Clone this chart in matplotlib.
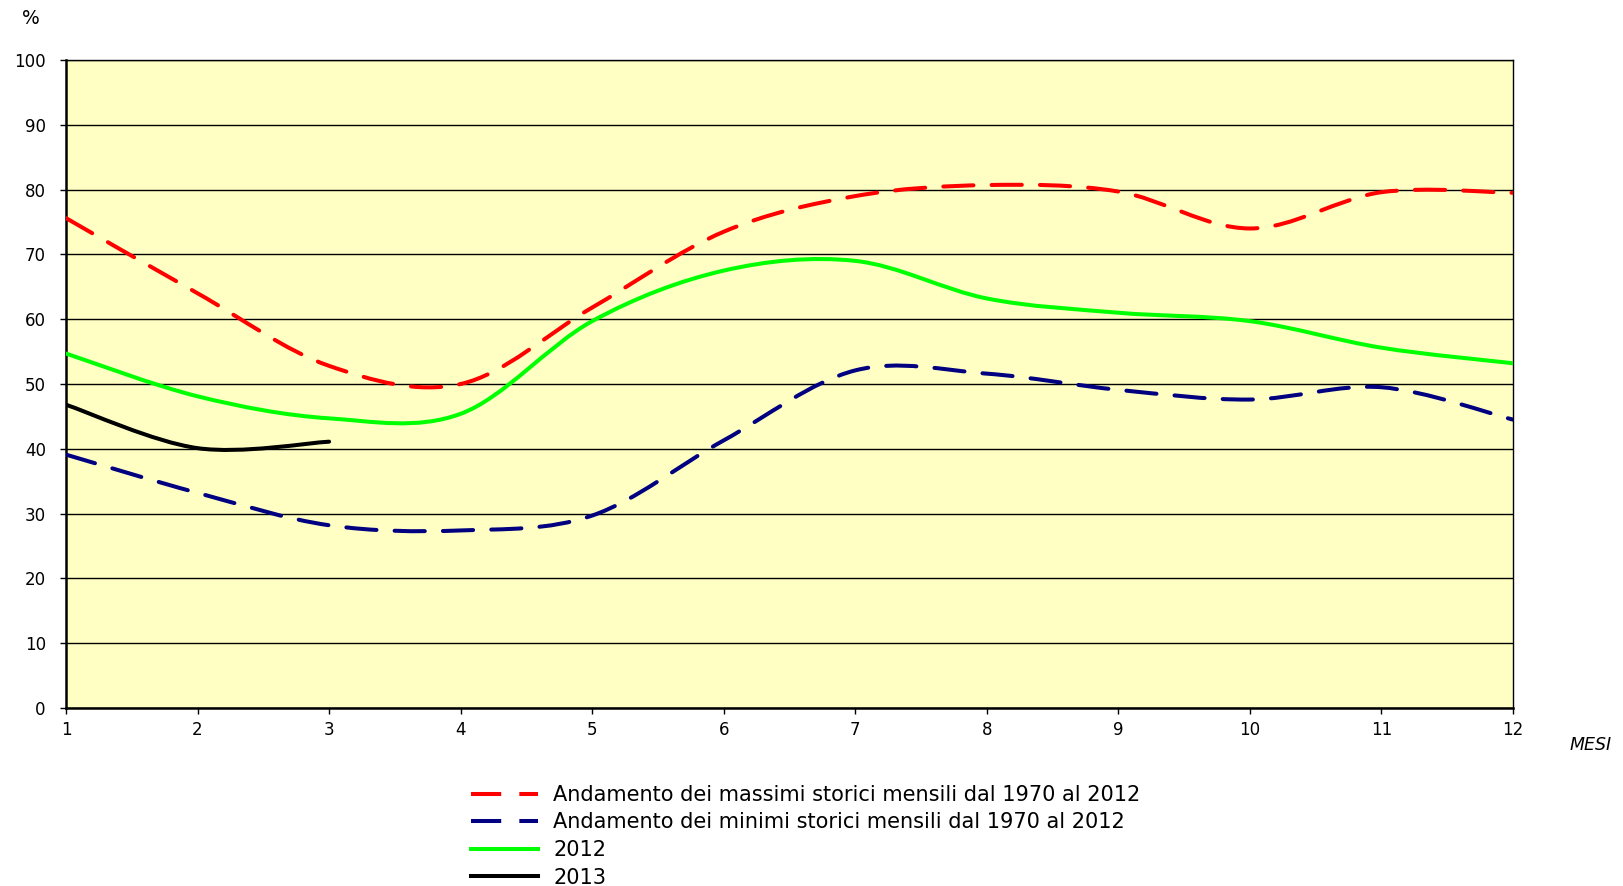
import numpy as np
import matplotlib
matplotlib.use("Agg")
import matplotlib.pyplot as plt
from matplotlib.path import Path
from matplotlib.patches import PathPatch
from matplotlib.lines import Line2D

plt.rcParams["font.family"] = ["DejaVu Sans"]

# mesi e percentuali
mesi = [1, 2, 3, 4, 5, 6, 7, 8, 9, 10, 11, 12]
massimi = [75.6, 64.0, 52.8, 50.0, 61.8, 73.5, 79.0, 80.7, 79.7, 74.0, 79.6, 79.5]
minimi = [39.1, 33.2, 28.2, 27.4, 29.7, 41.3, 52.1, 51.6, 49.1, 47.6, 49.5, 44.5]
anno_2012 = [54.7, 48.1, 44.7, 45.4, 59.7, 67.5, 69.0, 63.2, 61.0, 59.7, 55.6, 53.2]
mesi_2013 = [1, 2, 3]
anno_2013 = [46.8, 40.1, 41.1]

etichette = [
    "Andamento dei massimi storici mensili dal 1970 al 2012",
    "Andamento dei minimi storici mensili dal 1970 al 2012",
    "2012",
    "2013",
]
colori = ["#FF0000", "#000080", "#00FF00", "#000000"]
tratteggio = (0, (7.5, 4.5))


def curva(x, y):
    # linea smussata tipo Excel: bezier con tangenti catmull-rom
    pts = np.column_stack([np.asarray(x, float), np.asarray(y, float)])
    ext = np.vstack([pts[0], pts, pts[-1]])
    verts = [pts[0]]
    codes = [Path.MOVETO]
    for i in range(len(pts) - 1):
        p0, p1, p2, p3 = ext[i], ext[i + 1], ext[i + 2], ext[i + 3]
        verts += [p1 + (p2 - p0) / 6, p2 - (p3 - p1) / 6, p2]
        codes += [Path.CURVE4] * 3
    return Path(verts, codes)


fig = plt.figure(figsize=(16.23, 8.86), dpi=100)
ax = fig.add_axes([66 / 1623, 1 - 708 / 886, 1447 / 1623, 648 / 886])
ax.set_facecolor("#FFFFC4")

serie = [
    (mesi, massimi, colori[0], tratteggio),
    (mesi, minimi, colori[1], tratteggio),
    (mesi, anno_2012, colori[2], "-"),
    (mesi_2013, anno_2013, colori[3], "-"),
]
lw = 2.9
for x, y, c, ls in serie:
    ax.add_patch(PathPatch(curva(x, y), fill=False, edgecolor=c, lw=lw,
                           linestyle=ls, capstyle="round", joinstyle="round",
                           zorder=3))

ax.set_xlim(1, 12)
ax.set_ylim(0, 100)
ax.set_xticks(mesi)
ax.set_yticks(range(0, 101, 10))
ax.yaxis.grid(True, color="black", lw=1.0)
ax.set_axisbelow(True)
ax.tick_params(direction="out", length=4.5, width=1.0, labelsize=12)
ax.tick_params(axis="y", pad=10)
ax.tick_params(axis="x", pad=5)
for s in ["left", "bottom"]:
    ax.spines[s].set_linewidth(1.8)
for s in ["top", "right"]:
    ax.spines[s].set_linewidth(1.0)

fig.text(31 / 1623, 1 - 19 / 886, "%", fontsize=13.5, ha="center", va="center")
fig.text(1591 / 1623, 1 - 745 / 886, "MESI", fontsize=12.5, style="italic",
         ha="center", va="center")

handles = [
    Line2D([], [], color=colori[0], lw=lw, linestyle=tratteggio),
    Line2D([], [], color=colori[1], lw=lw, linestyle=tratteggio),
    Line2D([], [], color=colori[2], lw=lw),
    Line2D([], [], color=colori[3], lw=lw),
]
fig.legend(handles, etichette, loc="upper left",
           bbox_to_anchor=(471 / 1623, 1 - 785 / 886), frameon=False,
           fontsize=15, handlelength=3.2, handletextpad=0.75,
           labelspacing=0.36, borderpad=0, borderaxespad=0)

fig.savefig("out.png", dpi=100)
